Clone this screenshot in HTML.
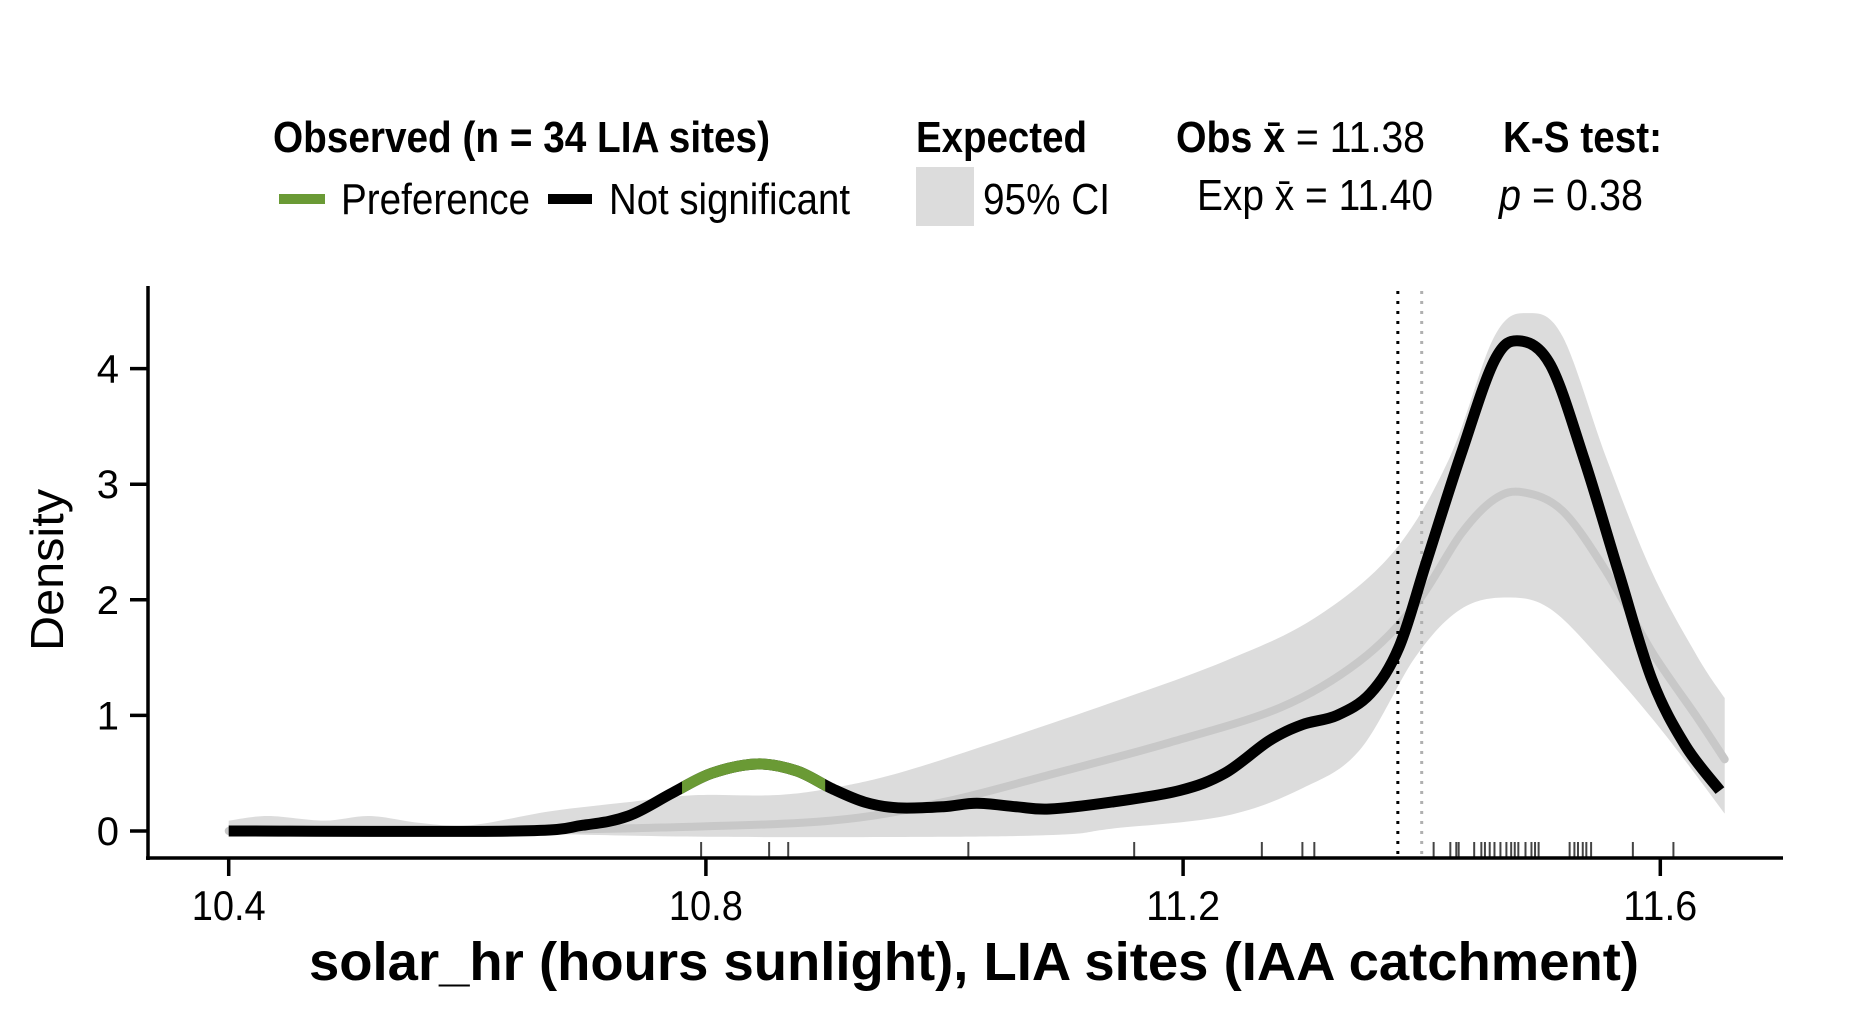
<!DOCTYPE html>
<html><head><meta charset="utf-8"><style>
html,body{margin:0;padding:0;background:#fff;}
svg{display:block;font-family:"Liberation Sans",Arial,sans-serif;}
</style></head><body>
<svg id="chart" width="1860" height="1020" viewBox="0 0 1860 1020">
<g id="legend">
 <text x="273" y="152" font-size="44" font-weight="bold" textLength="497" lengthAdjust="spacingAndGlyphs">Observed (n = 34 LIA sites)</text>
 <rect x="279" y="194" width="46" height="10" fill="#6a9a35"/>
 <text x="341" y="214" font-size="44" textLength="189" lengthAdjust="spacingAndGlyphs">Preference</text>
 <rect x="548" y="194" width="44" height="10" fill="#000"/>
 <text x="609" y="214" font-size="44" textLength="241" lengthAdjust="spacingAndGlyphs">Not significant</text>
 <text x="916" y="152" font-size="44" font-weight="bold" textLength="171" lengthAdjust="spacingAndGlyphs">Expected</text>
 <rect x="916" y="167" width="58" height="59" fill="#dcdcdc"/>
 <text x="983" y="214" font-size="44" textLength="127" lengthAdjust="spacingAndGlyphs">95% CI</text>
 <text x="1176" y="152" font-size="44" textLength="249" lengthAdjust="spacingAndGlyphs"><tspan font-weight="bold">Obs x̄</tspan> = 11.38</text>
 <text x="1197" y="210" font-size="44" textLength="236" lengthAdjust="spacingAndGlyphs">Exp x̄ = 11.40</text>
 <text x="1503" y="152" font-size="44" font-weight="bold" textLength="159" lengthAdjust="spacingAndGlyphs">K-S test:</text>
 <text x="1499" y="210" font-size="44" textLength="144" lengthAdjust="spacingAndGlyphs"><tspan font-style="italic">p</tspan> = 0.38</text>
</g>
<g id="plot"></g>
<g id="axes"></g>
<text x="0" y="0" font-size="46" transform="translate(63,570) rotate(-90)" text-anchor="middle" textLength="162" lengthAdjust="spacingAndGlyphs">Density</text>
<text x="974" y="980" font-size="54" font-weight="bold" text-anchor="middle" textLength="1330" lengthAdjust="spacingAndGlyphs">solar_hr (hours sunlight), LIA sites (IAA catchment)</text>
</svg>
<script>
const obsX=[10.4,10.64,10.697,10.735,10.772,10.805,10.843,10.876,10.905,10.933,10.961,10.999,11.027,11.06,11.088,11.14,11.197,11.235,11.272,11.30,11.329,11.357,11.381,11.404,11.433,11.461,11.482,11.508,11.536,11.565,11.593,11.621,11.65];
const obsY=[0,0,0.05,0.13,0.33,0.50,0.58,0.52,0.37,0.25,0.20,0.21,0.24,0.21,0.19,0.25,0.35,0.50,0.78,0.92,1.0,1.19,1.59,2.33,3.26,4.07,4.24,4.03,3.22,2.24,1.31,0.74,0.35];
const prefRange=[10.78,10.90];
const expX=[10.4,10.64,10.763,10.905,10.999,11.093,11.187,11.282,11.348,11.395,11.433,11.461,11.485,11.518,11.555,11.593,11.631,11.654];
const expY=[0,0.01,0.03,0.09,0.25,0.50,0.76,1.07,1.47,1.96,2.57,2.87,2.93,2.77,2.24,1.55,0.98,0.62];
const ciUpX=[10.4,10.433,10.48,10.518,10.56,10.603,10.669,10.735,10.791,10.857,10.905,10.961,11.046,11.14,11.235,11.31,11.376,11.423,11.461,11.489,11.518,11.555,11.593,11.631,11.654];
const ciUpY=[0.09,0.13,0.09,0.13,0.07,0.05,0.17,0.25,0.31,0.31,0.37,0.5,0.78,1.11,1.47,1.84,2.41,3.22,4.28,4.48,4.28,3.22,2.24,1.51,1.15];
const ciLoX=[10.4,10.63,10.8,11.0,11.1,11.14,11.235,11.30,11.348,11.395,11.433,11.471,11.508,11.555,11.602,11.654];
const ciLoY=[0,-0.02,-0.05,-0.05,-0.03,0.02,0.13,0.37,0.70,1.51,1.92,2.02,1.92,1.43,0.86,0.15];
const rug=[10.796,10.853,10.869,11.02,11.159,11.266,11.30,11.31,11.410,11.424,11.429,11.431,11.444,11.450,11.453,11.457,11.461,11.466,11.471,11.475,11.478,11.481,11.487,11.492,11.495,11.498,11.524,11.528,11.531,11.535,11.538,11.542,11.577,11.611];
const xTicks=[10.4,10.8,11.2,11.6];
const yTicks=[0,1,2,3,4];
const obsMean=11.38, expMean=11.40;

const NS='http://www.w3.org/2000/svg';
const X=v=>228.7+(v-10.4)*1193;
const Y=d=>831-d*115.6;
function mk(tag,attrs,parent){const e=document.createElementNS(NS,tag);for(const k in attrs)e.setAttribute(k,attrs[k]);parent.appendChild(e);return e;}
function smooth(xs,ys){
  const p=xs.map((x,i)=>[X(x),Y(ys[i])]);
  let d='M'+p[0][0]+','+p[0][1];
  for(let i=0;i<p.length-1;i++){
    const p0=p[Math.max(0,i-1)],p1=p[i],p2=p[i+1],p3=p[Math.min(p.length-1,i+2)];
    const c1=[p1[0]+(p2[0]-p0[0])/6,p1[1]+(p2[1]-p0[1])/6];
    const c2=[p2[0]-(p3[0]-p1[0])/6,p2[1]-(p3[1]-p1[1])/6];
    d+=' C'+c1[0]+','+c1[1]+' '+c2[0]+','+c2[1]+' '+p2[0]+','+p2[1];
  }
  return d;
}
const plot=document.getElementById('plot');
const axes=document.getElementById('axes');
const up=smooth(ciUpX,ciUpY);
const loRevX=ciLoX.slice().reverse(),loRevY=ciLoY.slice().reverse();
const lo=smooth(loRevX,loRevY).replace(/^M/,' L');
const band=mk('path',{d:up+lo+' Z',fill:'#dcdcdc',stroke:'none'},plot);


const em=mk('path',{d:smooth(expX,expY),fill:'none',stroke:'#c8c8c8','stroke-width':8,'stroke-linecap':'round'},plot);


const vl1=mk('line',{x1:X(obsMean),x2:X(obsMean),y1:291,y2:856,stroke:'#000','stroke-width':3,'stroke-dasharray':'3 7'},plot);


const vl2=mk('line',{x1:X(expMean),x2:X(expMean),y1:291,y2:856,stroke:'#b0b0b0','stroke-width':3,'stroke-dasharray':'3 7'},plot);


const ob=mk('path',{d:smooth(obsX,obsY),fill:'none',stroke:'#000','stroke-width':11,'stroke-linejoin':'round'},plot);


const cp=mk('clipPath',{id:'prefclip'},plot);
mk('rect',{x:X(prefRange[0]),y:0,width:X(prefRange[1])-X(prefRange[0]),height:1020},cp);
const pr=mk('path',{d:smooth(obsX,obsY),fill:'none',stroke:'#6a9a35','stroke-width':11,'clip-path':'url(#prefclip)'},plot);


rug.forEach(v=>{
  const r=mk('line',{x1:X(v),x2:X(v),y1:842,y2:857,stroke:'#444','stroke-width':2},plot);
  
  
});
const xa=mk('line',{x1:146,x2:1783,y1:858,y2:858,stroke:'#000','stroke-width':3.5},axes);


const ya=mk('line',{x1:148,x2:148,y1:286,y2:860,stroke:'#000','stroke-width':3.5},axes);


xTicks.forEach(v=>{
  const t=mk('line',{x1:X(v),x2:X(v),y1:858,y2:876,stroke:'#000','stroke-width':3.5},axes);
  
  
  const l=mk('text',{x:X(v),y:920,'font-size':42,'text-anchor':'middle',textLength:74,lengthAdjust:'spacingAndGlyphs'},axes);
  l.textContent=v.toFixed(1);
  
  
});
yTicks.forEach(v=>{
  const t=mk('line',{x1:130,x2:148,y1:Y(v),y2:Y(v),stroke:'#000','stroke-width':3.5},axes);
  
  
  const l=mk('text',{x:119,y:Y(v)+14,'font-size':40,'text-anchor':'end'},axes);
  l.textContent=String(v);
  
  
});
</script>
</body></html>
